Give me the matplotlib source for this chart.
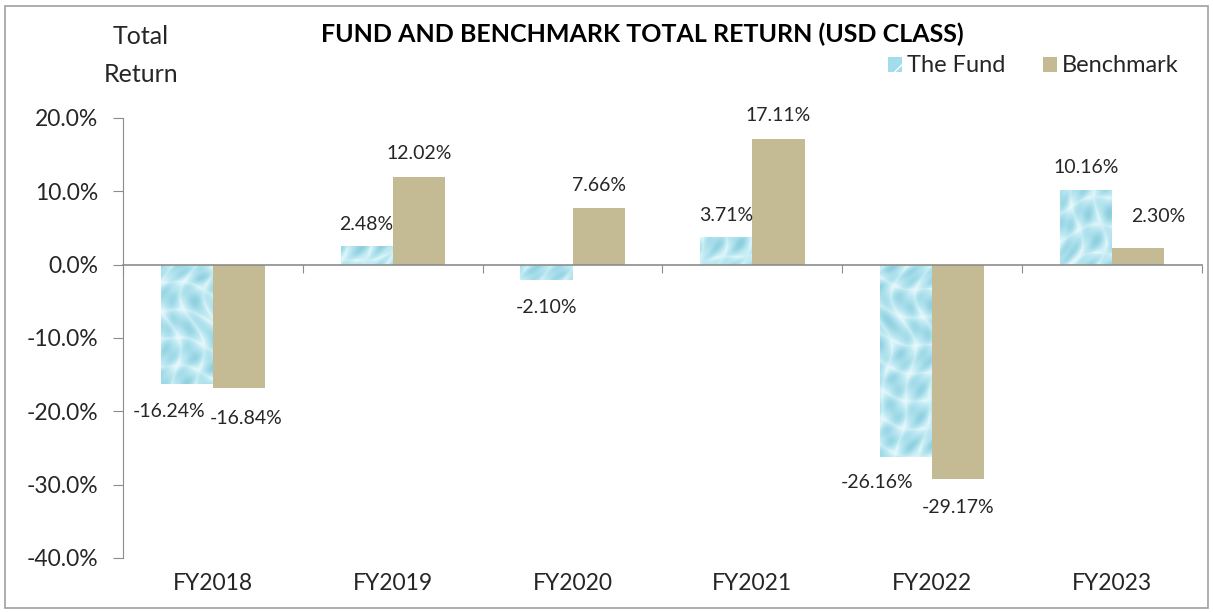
import numpy as np
import matplotlib
matplotlib.use("Agg")
import matplotlib.pyplot as plt
from matplotlib.patches import Patch, Rectangle
from matplotlib.path import Path
from matplotlib.colors import LinearSegmentedColormap
from matplotlib.transforms import blended_transform_factory

plt.rcParams['font.family'] = ['Lato', 'DejaVu Sans']

years = ['FY2018', 'FY2019', 'FY2020', 'FY2021', 'FY2022', 'FY2023']
fund = [-16.24, 2.48, -2.10, 3.71, -26.16, 10.16]
benchmark = [-16.84, 12.02, 7.66, 17.11, -29.17, 2.30]
yticks = [20, 10, 0, -10, -20, -30, -40]

# label nudges in pixels (dx, extra distance from bar end)
fund_nudge = [(-18, 2), (0, -1), (0, 1), (0, -1), (-29, 0), (0, 0)]
bench_nudge = [(7, 4), (0, 0), (0, 0), (0, 1), (0, 3), (20, 8)]

fund_color = '#b3e5f0'
bench_color = '#c4ba94'
axis_gray = '#8c8c8c'
text_color = '#262626'


def water_texture(nx, ny):
    # deterministic bubbly "water" look for the fund bars
    X, Y = np.meshgrid(np.arange(nx), np.arange(ny))
    u = X + 9 * np.sin(0.043 * Y) + 6 * np.sin(0.071 * Y + 1.3)
    v = Y + 9 * np.sin(0.051 * X) + 6 * np.cos(0.083 * X + 0.4)
    cells = np.abs(np.sin(0.13 * u) * np.sin(0.11 * v))
    ripple = 0.5 + 0.5 * np.sin(0.31 * u + 0.23 * v)
    t = 0.75 * cells ** 0.6 + 0.25 * ripple
    t = (t - t.min()) / (t.max() - t.min())
    return t


def main():
    fig = plt.figure(figsize=(12.13, 6.12), dpi=100)
    ax = fig.add_axes([123 / 1213, 1 - 558 / 612, (1202 - 123) / 1213, (558 - 118) / 612])

    x = np.arange(len(years))
    w = 0.29
    fb = ax.bar(x - w / 2, fund, w, color=fund_color, zorder=2)
    bb = ax.bar(x + w / 2, benchmark, w, color=bench_color, zorder=2)

    # texture over fund bars
    cmap = LinearSegmentedColormap.from_list('water', ['#eaf9fc', '#c6ecf4', '#abe0ec', '#8ccddd'])
    tex = water_texture(1100, 450)
    im = ax.imshow(tex, cmap=cmap, extent=(-0.5, len(years) - 0.5, -40, 20),
                   aspect='auto', zorder=2.5, interpolation='bilinear')
    paths = [b.get_path().transformed(b.get_patch_transform()) for b in fb]
    im.set_clip_path(Path.make_compound_path(*paths), ax.transData)
    ax.set_xlim(-0.5, len(years) - 0.5)
    ax.set_ylim(-40, 20)

    # data labels
    px = 0.72  # points per pixel at 100 dpi
    for bars, vals, nudges in [(fb, fund, fund_nudge), (bb, benchmark, bench_nudge)]:
        for b, v, (dx, dd) in zip(bars, vals, nudges):
            cx = b.get_x() + b.get_width() / 2
            off = (23 + dd) if v >= 0 else -(26 + dd)
            ax.annotate('{:.2f}%'.format(v), (cx, v), xytext=(dx * px, off * px),
                        textcoords='offset points', ha='center', va='center',
                        fontsize=14, color=text_color)

    # axes styling
    for s in ['top', 'right']:
        ax.spines[s].set_visible(False)
    ax.spines['left'].set_color(axis_gray)
    ax.spines['bottom'].set_position(('data', 0))
    ax.spines['bottom'].set_color(axis_gray)
    ax.spines['bottom'].set_linewidth(1.2)

    ax.set_yticks(yticks)
    ax.set_yticklabels(['{:.1f}%'.format(v) for v in yticks], fontsize=16.5, color=text_color)
    ax.tick_params(axis='y', direction='out', length=7, color=axis_gray, pad=11)

    ax.set_xticks(np.arange(-0.5, len(years), 1.0))
    ax.set_xticklabels([])
    ax.tick_params(axis='x', direction='out', length=6, color=axis_gray)

    trans = blended_transform_factory(ax.transData, fig.transFigure)
    for xi, yr in zip(x, years):
        ax.text(xi, 1 - 583 / 612, yr, transform=trans, ha='center', va='center',
                fontsize=16.5, color=text_color)

    # titles
    fig.text(642 / 1213, 1 - 34 / 612, 'FUND AND BENCHMARK TOTAL RETURN (USD CLASS)',
             ha='center', va='center', fontsize=18, fontweight='bold', color='black')
    fig.text(141 / 1213, 1 - 37 / 612, 'Total', ha='center', va='center', fontsize=18, color=text_color)
    fig.text(141 / 1213, 1 - 75 / 612, 'Return', ha='center', va='center', fontsize=18, color=text_color)

    handles = [Patch(facecolor='#a3dcea', edgecolor='white', hatch='/', linewidth=0, label='The Fund'),
               Patch(facecolor=bench_color, label='Benchmark')]
    fig.legend(handles=handles, loc='center right', bbox_to_anchor=(1200 / 1213, 1 - 66 / 612),
               ncol=2, frameon=False, fontsize=17, handlelength=0.6, handleheight=0.6,
               handletextpad=0.2, columnspacing=1.6, labelcolor=text_color)

    # outer frame
    fig.patches.append(Rectangle((5 / 1213, 4 / 612), 1203 / 1213, 602 / 612, transform=fig.transFigure,
                                 fill=False, edgecolor='#a0a0a0', linewidth=1.2))

    fig.savefig('out.png', dpi=100, facecolor='white')


if __name__ == "__main__": main()
